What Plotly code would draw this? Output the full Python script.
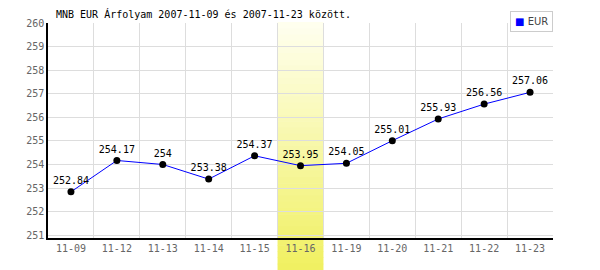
import plotly.graph_objects as go

dates = ["11-09", "11-12", "11-13", "11-14", "11-15", "11-16",
         "11-19", "11-20", "11-21", "11-22", "11-23"]
eur = [252.84, 254.17, 254.00, 253.38, 254.37, 253.95,
       254.05, 255.01, 255.93, 256.56, 257.06]
labels = ["252.84", "254.17", "254", "253.38", "254.37", "253.95",
          "254.05", "255.01", "255.93", "256.56", "257.06"]
highlight_date = "11-16"
ref_level = 254
y_ticks = list(range(251, 261))
title = "MNB EUR Árfolyam 2007-11-09 és 2007-11-23 között."
series_name = "EUR"

W, H = 600, 270
ml, mr, mt, mb = 48, 47, 23, 32
ph = H - mt - mb

mono = "DejaVu Sans Mono"

fig = go.Figure()
fig.add_trace(go.Scatter(
    x=dates, y=eur, mode="lines+markers+text",
    text=labels, textposition="top center",
    textfont=dict(family=mono, size=10, color="#000"),
    line=dict(color="#0000ff", width=1),
    marker=dict(color="#000", size=7),
    showlegend=False, cliponaxis=False,
))

shapes = []
hi = dates.index(highlight_date)
n = 40
top_px, bot_px = 22, 270
c0 = (255, 255, 240)
c1 = (240, 240, 96)
for i in range(n):
    t = (i + 0.5) / n
    col = tuple(round(c0[k] + (c1[k] - c0[k]) * t) for k in range(3))
    p0 = top_px + (bot_px - top_px) * i / n
    p1 = top_px + (bot_px - top_px) * (i + 1) / n + 0.5
    shapes.append(dict(
        type="rect", xref="x", yref="paper",
        x0=hi - 0.5, x1=hi + 0.5,
        y0=(H - mb - p0) / ph, y1=(H - mb - p1) / ph,
        fillcolor="rgb(%d,%d,%d)" % col, line=dict(width=0), layer="between",
    ))
shapes.append(dict(
    type="line", xref="paper", yref="y", x0=0, x1=1, y0=ref_level, y1=ref_level,
    line=dict(color="#9999e6", width=1, dash="4px,2px"), layer="between",
))

fig.update_layout(
    width=W, height=H, margin=dict(l=ml, r=mr, t=mt, b=mb),
    paper_bgcolor="white", plot_bgcolor="white",
    shapes=shapes,
    xaxis=dict(
        type="category", range=[-0.5, len(dates) - 0.5],
        tickson="boundaries", showgrid=True, gridcolor="#dddddd", gridwidth=1,
        showline=True, linecolor="#000", linewidth=1.5, ticks="",
        tickfont=dict(family=mono, size=10, color="#666"),
        zeroline=False, fixedrange=True,
    ),
    yaxis=dict(
        range=[250.883, 260.0], tickvals=y_ticks,
        showgrid=True, gridcolor="#dddddd", gridwidth=1,
        showline=True, linecolor="#000", linewidth=1.5, ticks="",
        tickfont=dict(family=mono, size=10, color="#666"),
        zeroline=False, fixedrange=True,
    ),
    annotations=[
        dict(text=title, xref="paper", yref="paper", x=0, xshift=6,
             y=1 + (mt - 14) / ph, xanchor="left", yanchor="middle",
             showarrow=False, font=dict(family=mono, size=10, color="#000")),
        dict(text="<span style='color:#0000ff'>■</span> " + series_name,
             xref="paper", yref="paper", x=1, xanchor="right",
             y=1 + (mt - 11) / ph, yanchor="top", showarrow=False,
             bordercolor="#cccccc", borderwidth=1, borderpad=4, bgcolor="white",
             font=dict(family="DejaVu Sans", size=10, color="#444")),
    ],
)

fig.write_html("out.html")
